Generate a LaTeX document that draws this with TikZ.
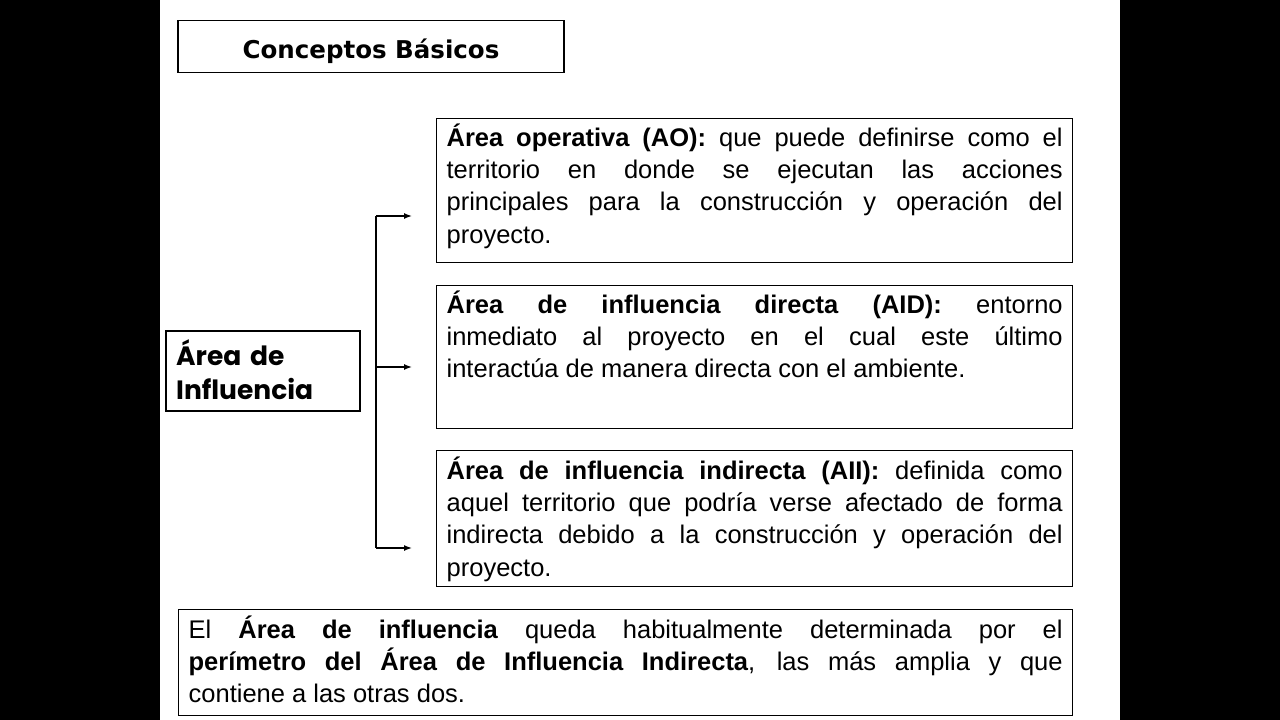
\documentclass[tikz,border=0pt]{standalone}
\usepackage{fontspec}
\setmainfont{Liberation Sans}
\newfontfamily\bodyfont{Liberation Sans}
\newfontfamily\titlefont{DejaVu Sans}
\newfontfamily\areafont{Poppins}
\usetikzlibrary{arrows.meta}
\pgfdeclarelayer{bg}
\pgfsetlayers{bg,main}

\begin{document}
\begin{tikzpicture}[x=1pt,y=-1pt,
        textbox/.style={draw, line width=1.3pt, anchor=north west, inner xsep=10pt, inner ysep=0pt,
                align=justify, font=\bodyfont\fontsize{25.5}{32.3}\selectfont},
        branch/.style={line width=1.4pt, -{Latex[length=8pt,width=6pt]}, shorten >=24pt}]
        \useasboundingbox (0,0) rectangle (1280,720);
        \begin{pgfonlayer}{bg}
                \fill[white] (0,0) rectangle (1280,720);
                \fill[black] (0,0) rectangle (160,720);
                \fill[black] (1120,0) rectangle (1280,720);
        \end{pgfonlayer}
        \node (title) [draw, line width=1.3pt, anchor=north, minimum width=386pt, inner sep=0pt,
                text height=38pt, text depth=14pt, font=\titlefont\bfseries\fontsize{24.5}{28}\selectfont]
                at (371,20) {Conceptos Básicos};
        \node (area) [draw, line width=2.4pt, anchor=north west, inner xsep=10pt, inner ysep=0pt,
                text width=174pt, align=left, text height=34pt, text depth=46pt,
                font=\areafont\bfseries\fontsize{26.5}{34.5}\selectfont]
                at (165,330) {Área de\\Influencia};
        \node (ao) [textbox, text width=616pt, text height=27.5pt, text depth=116.5pt] at (436,118)
                {\textbf{Área operativa (AO):} que puede definirse como el\linebreak
                territorio en donde se ejecutan las acciones\linebreak
                principales para la construcción y operación del\linebreak
                proyecto.};
        \node (aid) [textbox, text width=616pt, text height=27.5pt, text depth=115.5pt] at (436,285)
                {\textbf{Área de influencia directa (AID):} entorno\linebreak
                inmediato al proyecto en el cual este último\linebreak
                interactúa de manera directa con el ambiente.};
        \node (aii) [textbox, text width=616pt, text height=28.5pt, text depth=107.5pt] at (436,450)
                {\textbf{Área de influencia indirecta (AII):} definida como\linebreak
                aquel territorio que podría verse afectado de forma\linebreak
                indirecta debido a la construcción y operación del\linebreak
                proyecto.};
        \node (note) [textbox, text width=874pt, text height=28.5pt, text depth=77.5pt] at (178,609)
                {El \textbf{Área de influencia} queda habitualmente determinada por el\linebreak
                \textbf{perímetro del Área de Influencia Indirecta}, las más amplia y que\linebreak
                contiene a las otras dos.};
        \coordinate (jAO) at (376,216);
        \coordinate (jAID) at (376,367);
        \coordinate (jAII) at (376,548);
        \draw[line width=1.4pt] (jAO) -- (jAII);
        \draw[branch] (jAO) -- (jAO -| ao.west);
        \draw[branch] (jAID) -- (jAID -| aid.west);
        \draw[branch] (jAII) -- (jAII -| aii.west);
\end{tikzpicture}
\end{document}
